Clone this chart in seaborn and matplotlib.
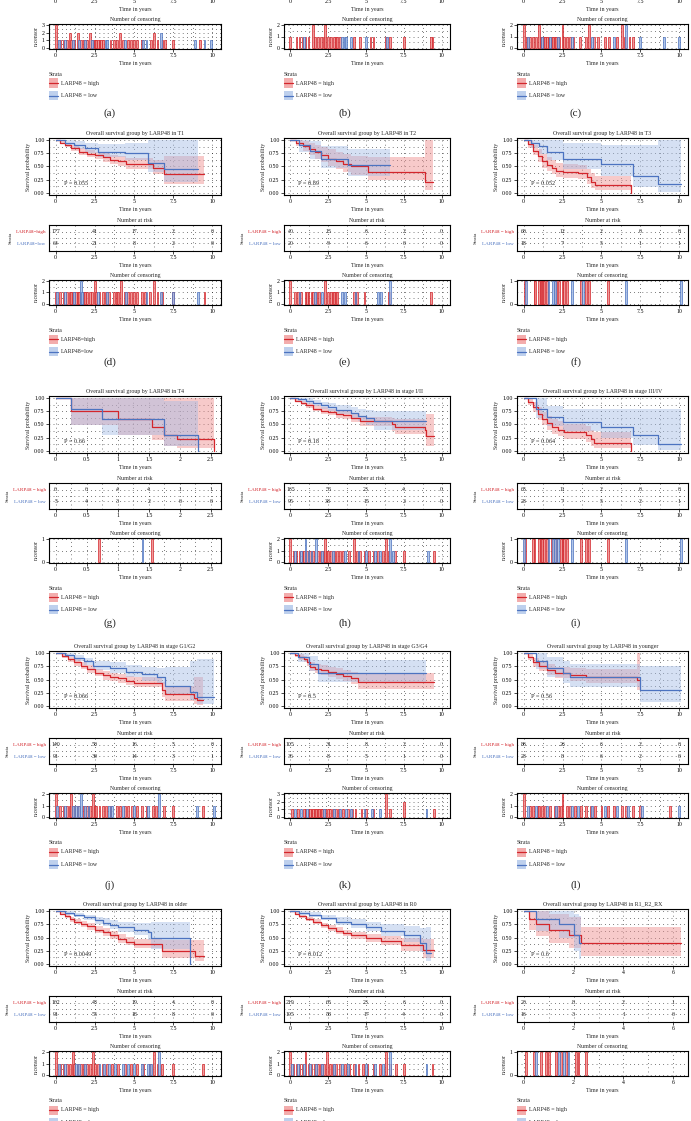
import numpy as np
import seaborn as sns
import matplotlib.pyplot as plt
from matplotlib.patches import Rectangle
from matplotlib.lines import Line2D

# ----------------------------- DATA ------------------------------------------
ticks_10 = [0, 2.5, 5, 7.5, 10]
ticks_t4 = [0, 0.5, 1, 1.5, 2, 2.5]
ticks_r1 = [0, 2, 4, 6]

# (d) T1
d_high_t = [0, 0.3, 0.6, 1.0, 1.5, 2.0, 2.5, 3.0, 3.5, 4.0, 4.5, 6.2, 6.9, 9.5]
d_high_s = [1.0, 0.95, 0.9, 0.84, 0.78, 0.74, 0.71, 0.67, 0.63, 0.6, 0.55, 0.48, 0.35, 0.35]
d_high_lo = [1.0, 0.92, 0.86, 0.79, 0.72, 0.67, 0.64, 0.59, 0.55, 0.51, 0.45, 0.36, 0.17, 0.17]
d_high_hi = [1.0, 0.98, 0.95, 0.9, 0.85, 0.81, 0.78, 0.75, 0.72, 0.7, 0.66, 0.63, 0.7, 0.7]
d_low_t = [0, 0.6, 1.2, 1.9, 2.7, 4.4, 5.9, 6.9, 9.1]
d_low_s = [1.0, 0.95, 0.9, 0.85, 0.78, 0.75, 0.57, 0.45, 0.45]
d_low_lo = [1.0, 0.9, 0.83, 0.76, 0.68, 0.62, 0.4, 0.2, 0.2]
d_low_hi = [1.0, 1.0, 0.98, 0.95, 0.92, 0.95, 1.0, 1.0, 1.0]

# (e) T2
e_high_t = [0, 0.4, 0.8, 1.2, 1.6, 2.0, 2.5, 3.0, 3.5, 4.0, 5.1, 8.9, 9.4]
e_high_s = [1.0, 0.95, 0.88, 0.82, 0.77, 0.72, 0.65, 0.6, 0.55, 0.5, 0.4, 0.2, 0.2]
e_high_lo = [1.0, 0.88, 0.79, 0.71, 0.65, 0.59, 0.51, 0.45, 0.4, 0.34, 0.25, 0.05, 0.05]
e_high_hi = [1.0, 1.0, 0.97, 0.94, 0.9, 0.87, 0.82, 0.78, 0.74, 0.7, 0.68, 1.0, 1.0]
e_low_t = [0, 0.6, 1.3, 2.0, 3.8, 6.6]
e_low_s = [1.0, 0.9, 0.8, 0.65, 0.53, 0.53]
e_low_lo = [1.0, 0.78, 0.64, 0.47, 0.33, 0.33]
e_low_hi = [1.0, 1.0, 0.98, 0.88, 0.82, 0.82]

# (f) T3
f_high_t = [0, 0.3, 0.6, 0.9, 1.2, 1.5, 1.8, 2.1, 2.5, 3.5, 4.1, 4.3, 4.6, 6.9]
f_high_s = [1.0, 0.92, 0.8, 0.7, 0.6, 0.53, 0.47, 0.42, 0.4, 0.38, 0.3, 0.2, 0.15, 0.0]
f_high_lo = [1.0, 0.85, 0.71, 0.59, 0.48, 0.41, 0.35, 0.3, 0.28, 0.26, 0.18, 0.1, 0.06, 0.0]
f_high_hi = [1.0, 0.99, 0.9, 0.82, 0.73, 0.67, 0.62, 0.57, 0.55, 0.53, 0.46, 0.38, 0.33, 0.0]
f_low_t = [0, 0.5, 1.0, 1.5, 2.5, 5.0, 7.0, 8.6, 10.1]
f_low_s = [1.0, 0.94, 0.88, 0.78, 0.65, 0.55, 0.33, 0.17, 0.17]
f_low_lo = [1.0, 0.84, 0.74, 0.62, 0.45, 0.33, 0.12, 0.03, 0.03]
f_low_hi = [1.0, 1.0, 1.0, 1.0, 0.95, 0.9, 0.9, 1.0, 1.0]

# (g) T4
g_high_t = [0, 0.25, 1.0, 1.55, 1.75, 1.95, 2.55]
g_high_s = [1.0, 0.75, 0.6, 0.45, 0.3, 0.22, 0.0]
g_high_lo = [1.0, 0.5, 0.3, 0.2, 0.1, 0.05, 0.0]
g_high_hi = [1.0, 1.0, 1.0, 1.0, 1.0, 1.0, 0.0]
g_low_t = [0, 0.25, 0.75, 1.75, 2.3]
g_low_s = [1.0, 0.8, 0.6, 0.3, 0.0]
g_low_lo = [1.0, 0.5, 0.3, 0.1, 0.0]
g_low_hi = [1.0, 1.0, 1.0, 0.95, 0.0]

# (h) stage I/II
h_high_t = [0, 0.3, 0.7, 1.0, 1.5, 2.0, 2.5, 3.0, 3.5, 4.0, 4.6, 6.7, 6.9, 8.9, 9.0, 9.5]
h_high_s = [1.0, 0.95, 0.9, 0.86, 0.8, 0.76, 0.73, 0.7, 0.67, 0.63, 0.56, 0.5, 0.45, 0.4, 0.28, 0.28]
h_high_lo = [1.0, 0.92, 0.86, 0.81, 0.75, 0.7, 0.67, 0.63, 0.6, 0.55, 0.47, 0.38, 0.33, 0.26, 0.1, 0.1]
h_high_hi = [1.0, 0.98, 0.94, 0.9, 0.86, 0.82, 0.8, 0.77, 0.75, 0.71, 0.65, 0.62, 0.6, 0.58, 0.7, 0.7]
h_low_t = [0, 0.5, 1.0, 1.5, 2.0, 2.5, 3.0, 4.0, 4.5, 5.0, 5.5, 9.0]
h_low_s = [1.0, 0.97, 0.94, 0.9, 0.86, 0.82, 0.78, 0.72, 0.66, 0.62, 0.57, 0.57]
h_low_lo = [1.0, 0.93, 0.89, 0.84, 0.79, 0.75, 0.7, 0.63, 0.56, 0.5, 0.4, 0.4]
h_low_hi = [1.0, 1.0, 0.99, 0.96, 0.93, 0.9, 0.87, 0.83, 0.8, 0.78, 0.76, 0.76]

# (i) stage III/IV
i_high_t = [0, 0.3, 0.6, 0.9, 1.2, 1.5, 1.8, 2.2, 2.6, 4.0, 4.3, 4.5, 6.9]
i_high_s = [1.0, 0.93, 0.82, 0.7, 0.6, 0.52, 0.45, 0.4, 0.35, 0.3, 0.22, 0.15, 0.0]
i_high_lo = [1.0, 0.87, 0.73, 0.59, 0.49, 0.4, 0.33, 0.28, 0.23, 0.18, 0.1, 0.05, 0.0]
i_high_hi = [1.0, 1.0, 0.93, 0.82, 0.73, 0.66, 0.6, 0.56, 0.51, 0.47, 0.4, 0.35, 0.0]
i_low_t = [0, 0.8, 1.5, 2.5, 5.0, 7.0, 8.6, 10.1]
i_low_s = [1.0, 0.8, 0.65, 0.55, 0.45, 0.3, 0.13, 0.13]
i_low_lo = [1.0, 0.62, 0.47, 0.37, 0.25, 0.11, 0.02, 0.02]
i_low_hi = [1.0, 1.0, 0.85, 0.8, 0.8, 0.8, 0.8, 0.8]

# (j) stage G1/G2
j_high_t = [0, 0.4, 0.8, 1.2, 1.6, 2.0, 2.5, 3.0, 3.5, 4.0, 4.5, 5.0, 6.8, 7.0, 8.8, 9.0, 9.4]
j_high_s = [1.0, 0.94, 0.88, 0.82, 0.76, 0.7, 0.63, 0.58, 0.55, 0.52, 0.48, 0.44, 0.3, 0.22, 0.15, 0.12, 0.12]
j_high_lo = [1.0, 0.9, 0.83, 0.76, 0.7, 0.63, 0.56, 0.5, 0.47, 0.44, 0.39, 0.35, 0.18, 0.1, 0.04, 0.02, 0.02]
j_high_hi = [1.0, 0.98, 0.93, 0.88, 0.83, 0.77, 0.7, 0.66, 0.63, 0.61, 0.57, 0.55, 0.45, 0.38, 0.55, 0.55, 0.55]
j_low_t = [0, 0.6, 1.2, 1.8, 2.4, 3.5, 4.5, 5.5, 6.5, 7.0, 8.6, 9.0, 10.1]
j_low_s = [1.0, 0.96, 0.9, 0.84, 0.76, 0.72, 0.65, 0.6, 0.55, 0.38, 0.27, 0.18, 0.18]
j_low_lo = [1.0, 0.92, 0.85, 0.78, 0.68, 0.63, 0.55, 0.48, 0.42, 0.22, 0.12, 0.04, 0.04]
j_low_hi = [1.0, 1.0, 0.96, 0.91, 0.85, 0.82, 0.77, 0.74, 0.72, 0.74, 0.85, 0.88, 0.88]

# (k) stage G3/G4
k_high_t = [0, 0.3, 0.6, 0.9, 1.1, 1.3, 1.6, 2.0, 2.5, 3.0, 3.5, 4.0, 4.5, 9.5]
k_high_s = [1.0, 0.96, 0.92, 0.88, 0.82, 0.74, 0.7, 0.67, 0.64, 0.61, 0.57, 0.52, 0.45, 0.45]
k_high_lo = [1.0, 0.92, 0.87, 0.82, 0.75, 0.66, 0.62, 0.58, 0.55, 0.51, 0.47, 0.41, 0.33, 0.33]
k_high_hi = [1.0, 1.0, 0.97, 0.94, 0.9, 0.83, 0.8, 0.77, 0.74, 0.72, 0.68, 0.64, 0.62, 0.62]
k_low_t = [0, 0.5, 1.2, 1.8, 9.0]
k_low_s = [1.0, 0.92, 0.8, 0.63, 0.63]
k_low_lo = [1.0, 0.82, 0.66, 0.46, 0.46]
k_low_hi = [1.0, 1.0, 0.95, 0.87, 0.87]

# (l) younger
l_high_t = [0, 0.3, 0.6, 1.0, 1.5, 2.0, 3.0, 4.0, 7.3, 7.5]
l_high_s = [1.0, 0.92, 0.82, 0.75, 0.68, 0.62, 0.58, 0.55, 0.5, 0.5]
l_high_lo = [1.0, 0.86, 0.74, 0.66, 0.58, 0.52, 0.47, 0.43, 0.3, 0.3]
l_high_hi = [1.0, 0.98, 0.9, 0.85, 0.79, 0.74, 0.71, 0.7, 1.0, 1.0]
l_low_t = [0, 0.8, 1.5, 2.5, 3.0, 7.5, 10.1]
l_low_s = [1.0, 0.85, 0.72, 0.62, 0.55, 0.3, 0.3]
l_low_lo = [1.0, 0.7, 0.55, 0.44, 0.36, 0.08, 0.08]
l_low_hi = [1.0, 1.0, 0.92, 0.85, 0.8, 0.75, 0.75]

# (m) older
m_high_t = [0, 0.3, 0.6, 0.9, 1.2, 1.6, 2.0, 2.5, 3.0, 3.5, 4.0, 4.5, 5.0, 6.8, 8.9, 9.5]
m_high_s = [1.0, 0.95, 0.9, 0.85, 0.8, 0.76, 0.71, 0.65, 0.6, 0.55, 0.47, 0.42, 0.38, 0.25, 0.15, 0.15]
m_high_lo = [1.0, 0.92, 0.86, 0.8, 0.75, 0.7, 0.65, 0.58, 0.53, 0.48, 0.4, 0.35, 0.3, 0.12, 0.05, 0.05]
m_high_hi = [1.0, 0.98, 0.94, 0.89, 0.85, 0.81, 0.77, 0.71, 0.67, 0.62, 0.56, 0.51, 0.48, 0.45, 0.45, 0.45]
m_low_t = [0, 0.6, 1.2, 1.8, 2.5, 3.0, 3.5, 4.0, 5.0, 5.9, 6.1, 8.6]
m_low_s = [1.0, 0.96, 0.92, 0.88, 0.82, 0.78, 0.74, 0.7, 0.65, 0.6, 0.5, 0.0]
m_low_lo = [1.0, 0.93, 0.88, 0.83, 0.76, 0.71, 0.66, 0.61, 0.55, 0.45, 0.28, 0.0]
m_low_hi = [1.0, 1.0, 0.96, 0.93, 0.89, 0.86, 0.83, 0.8, 0.78, 0.78, 0.8, 0.0]

# (n) R0
n_high_t = [0, 0.3, 0.6, 1.0, 1.5, 2.0, 2.5, 3.0, 3.5, 4.0, 5.0, 6.0, 7.3, 8.8, 9.5]
n_high_s = [1.0, 0.95, 0.9, 0.85, 0.79, 0.73, 0.68, 0.63, 0.58, 0.54, 0.49, 0.43, 0.36, 0.26, 0.26]
n_high_lo = [1.0, 0.93, 0.87, 0.81, 0.75, 0.68, 0.63, 0.57, 0.52, 0.47, 0.42, 0.35, 0.25, 0.12, 0.12]
n_high_hi = [1.0, 0.98, 0.93, 0.89, 0.84, 0.78, 0.74, 0.69, 0.65, 0.61, 0.57, 0.52, 0.5, 0.48, 0.48]
n_low_t = [0, 0.6, 1.2, 2.0, 3.0, 4.0, 5.0, 6.0, 7.5, 8.6, 9.0, 9.3]
n_low_s = [1.0, 0.96, 0.92, 0.87, 0.8, 0.75, 0.7, 0.62, 0.55, 0.4, 0.2, 0.2]
n_low_lo = [1.0, 0.93, 0.88, 0.82, 0.74, 0.68, 0.62, 0.52, 0.42, 0.22, 0.05, 0.05]
n_low_hi = [1.0, 1.0, 0.97, 0.93, 0.88, 0.84, 0.8, 0.76, 0.72, 0.68, 0.7, 0.7]

# (o) R1_R2_RX
o_high_t = [0, 0.2, 0.5, 1.0, 1.8, 2.3, 6.3]
o_high_s = [1.0, 0.85, 0.75, 0.65, 0.55, 0.4, 0.4]
o_high_lo = [1.0, 0.65, 0.52, 0.4, 0.3, 0.15, 0.15]
o_high_hi = [1.0, 1.0, 1.0, 0.95, 0.88, 0.7, 0.7]
o_low_t = [0, 0.5, 1.4, 2.0, 2.2, 2.3]
o_low_s = [1.0, 0.85, 0.75, 0.55, 0.4, 0.4]
o_low_lo = [1.0, 0.62, 0.5, 0.25, 0.1, 0.1]
o_low_hi = [1.0, 1.0, 1.0, 0.95, 0.9, 0.9]

# number at risk (high / low) at each tick
d_risk = [[177, 41, 17, 2, 0], [64, 21, 8, 2, 0]]
e_risk = [[40, 13, 6, 2, 0], [20, 9, 6, 0, 0]]
f_risk = [[60, 12, 2, 0, 0], [18, 7, 5, 1, 1]]
g_risk = [[6, 6, 4, 4, 1, 1], [5, 4, 3, 2, 0, 0]]
h_risk = [[165, 53, 23, 4, 0], [95, 38, 15, 2, 0]]
i_risk = [[65, 11, 2, 0, 0], [28, 7, 5, 2, 1]]
j_risk = [[140, 50, 16, 5, 0], [91, 39, 14, 3, 1]]
k_risk = [[105, 31, 8, 2, 0], [36, 8, 5, 1, 0]]
l_risk = [[86, 26, 6, 2, 0], [28, 8, 6, 2, 0]]
m_risk = [[162, 48, 19, 4, 0], [91, 55, 18, 8, 0]]
n_risk = [[219, 63, 23, 6, 0], [105, 58, 17, 4, 0]]
o_risk = [[20, 8, 2, 1], [16, 3, 1, 0]]

# censoring times (a repeated time = more than one censored subject)
a_cens_high = [0, 0, 0, 0.3, 0.5, 0.7, 0.9, 0.9, 1.0, 1.2, 1.4, 1.4, 1.6, 1.8, 2.0, 2.2, 2.2, 2.4, 2.5, 2.6,
               2.7, 2.8, 2.9, 3.0, 3.5, 3.7, 3.9, 4.1, 4.1, 4.3, 4.6, 4.8, 5.0, 5.2, 5.5, 6.1, 6.3, 6.3,
               6.5, 6.8, 7.0, 7.5, 9.2]
a_cens_low = [0.2, 0.6, 1.1, 1.5, 1.9, 2.3, 3.2, 3.3, 4.4, 5.6, 5.8, 6.7, 6.7, 8.9, 9.5, 9.9]
b_cens_high = [0, 0.4, 0.6, 0.8, 1.0, 1.2, 1.5, 1.5, 1.6, 1.8, 2.0, 2.2, 2.3, 2.3, 2.5, 2.7, 2.9, 3.0, 3.1,
               3.3, 4.2, 4.6, 5.3, 5.5, 6.3, 6.6, 7.5, 9.3, 9.4]
b_cens_low = [0.9, 3.4, 3.6, 3.7, 4.0, 5.0, 6.4]
c_cens_high = [0, 0, 0.2, 0.4, 0.6, 0.8, 1.0, 1.0, 1.1, 1.2, 1.3, 1.4, 1.5, 1.6, 1.7, 1.8, 1.9, 2.0, 2.1,
               2.2, 2.3, 2.5, 2.5, 2.6, 2.8, 3.0, 3.2, 3.6, 4.0, 4.2, 4.2, 4.5, 4.8, 5.2, 5.5, 6.0, 6.3,
               6.3, 6.5, 6.8, 7.0]
c_cens_low = [0.3, 1.2, 1.7, 2.2, 3.1, 4.4, 5.8, 6.6, 6.6, 7.5, 9.0, 10.0]
d_cens_high = [0, 0.3, 0.5, 0.7, 0.9, 1.0, 1.1, 1.3, 1.4, 1.5, 1.8, 1.9, 2.0, 2.2, 2.3, 2.5, 2.5, 2.6, 2.8,
               3.0, 3.2, 3.4, 3.7, 3.9, 4.0, 4.2, 4.2, 4.4, 4.6, 4.8, 5.0, 5.2, 5.5, 5.7, 6.0, 6.3, 6.3,
               6.5, 6.8, 7.5, 9.5]
d_cens_low = [0.1, 0.6, 1.2, 1.6, 1.6, 1.7, 2.7, 3.3, 4.5, 5.8, 6.7, 7.5, 9.1]
e_cens_high = [0, 0, 0.3, 0.5, 0.7, 1.0, 1.1, 1.2, 1.4, 1.5, 1.7, 1.9, 2.3, 2.3, 2.5, 2.7, 2.8, 2.9, 3.0,
               3.1, 4.2, 4.4, 4.9, 6.5, 9.3]
e_cens_low = [0.6, 1.6, 2.1, 3.4, 3.6, 4.3, 5.8, 6.0, 6.6, 6.6]
f_cens_high = [0.1, 0.7, 0.75, 1.0, 1.1, 1.2, 1.25, 1.3, 1.5, 2.1, 2.3, 2.5, 2.6, 2.8, 3.7, 4.0, 4.2, 5.4]
f_cens_low = [0.15, 1.6, 1.9, 2.0, 3.1, 3.8, 6.6, 10.1]
g_cens_high = [0.7, 1.55]
g_cens_low = [1.4]
h_cens_high = [0, 0, 0.2, 0.4, 0.6, 0.8, 0.9, 1.1, 1.3, 1.5, 1.8, 2.0, 2.2, 2.3, 2.3, 2.4, 2.5, 2.7, 2.9,
               3.1, 3.3, 3.5, 3.9, 4.2, 4.2, 4.4, 4.6, 4.9, 5.2, 5.5, 5.8, 6.1, 6.3, 6.3, 6.5, 6.9, 7.5, 9.5]
h_cens_low = [0.3, 0.7, 1.0, 1.0, 1.2, 1.4, 1.7, 1.7, 2.1, 2.8, 3.6, 4.5, 5.0, 5.6, 5.9, 6.6, 6.6, 6.8, 9.1]
i_cens_high = [0.1, 0.6, 0.7, 1.0, 1.1, 1.2, 1.3, 1.5, 1.8, 2.1, 2.4, 2.5, 2.6, 2.8, 3.7, 4.0, 4.2, 5.4]
i_cens_low = [0.05, 1.6, 1.9, 2.0, 2.2, 3.1, 6.6, 10.1]
j_cens_high = [0, 0, 0.3, 0.5, 0.7, 0.9, 1.0, 1.0, 1.2, 1.4, 1.8, 2.0, 2.2, 2.4, 2.4, 2.5, 2.6, 2.8, 3.0,
               3.2, 3.5, 3.9, 4.1, 4.4, 4.6, 4.9, 5.2, 5.5, 5.8, 6.2, 6.4, 6.9, 7.5, 9.4]
j_cens_low = [0.1, 0.6, 1.1, 1.3, 1.5, 1.6, 1.6, 1.9, 2.1, 3.4, 3.6, 4.3, 5.0, 5.9, 6.6, 6.6, 9.0, 10.1]
k_cens_high = [0.1, 0.5, 0.9, 1.0, 1.2, 1.3, 1.4, 1.5, 1.6, 1.7, 1.8, 1.9, 2.0, 2.1, 2.3, 2.5, 2.6, 2.8,
               3.0, 3.2, 3.5, 3.8, 4.1, 4.3, 4.7, 5.0, 5.5, 6.3, 6.3, 6.3, 6.6, 7.5, 7.5, 9.5]
k_cens_low = [0.3, 0.7, 1.1, 2.2, 2.9, 3.3, 3.7, 4.0, 4.9, 5.4, 5.9, 9.0]
l_cens_high = [0, 0, 0.4, 0.6, 0.9, 1.0, 1.2, 1.4, 1.7, 2.0, 2.2, 2.4, 2.5, 2.5, 2.8, 3.0, 3.3, 3.7, 4.0,
               4.3, 4.6, 5.0, 5.4, 5.8, 6.3, 6.6, 7.0, 7.5, 9.4]
l_cens_low = [0.3, 0.8, 1.5, 2.1, 3.1, 3.5, 4.4, 5.2, 6.0, 6.7, 7.6, 10.0]
m_cens_high = [0, 0, 0.3, 0.5, 0.7, 0.9, 1.1, 1.1, 1.2, 1.4, 1.6, 1.8, 2.0, 2.2, 2.4, 2.4, 2.5, 2.7, 3.0,
               3.3, 3.6, 4.0, 4.4, 4.8, 5.2, 5.6, 6.0, 6.3, 6.3, 6.5, 6.8, 7.5, 9.4]
m_cens_low = [0.2, 0.6, 1.3, 1.5, 1.9, 2.8, 3.1, 3.4, 3.8, 4.3, 4.6, 5.0, 5.5, 5.9, 6.1, 6.6, 6.6]
n_cens_high = [0, 0, 0.2, 0.4, 0.6, 0.8, 1.0, 1.0, 1.2, 1.4, 1.6, 1.8, 2.0, 2.2, 2.4, 2.4, 2.6, 2.8, 3.0,
               3.3, 3.6, 3.9, 4.2, 4.5, 4.8, 5.1, 5.5, 5.9, 6.3, 6.3, 6.6, 7.0, 7.5, 9.4]
n_cens_low = [0.1, 0.5, 0.9, 1.3, 1.7, 2.1, 2.9, 3.4, 3.8, 4.3, 5.0, 5.6, 6.1, 6.6, 6.6, 9.0]
o_cens_high = [0.1, 0.4, 0.7, 0.9, 1.0, 1.3, 1.5, 1.7, 2.1, 2.2, 2.5]
o_cens_low = [0.5, 1.4, 1.6, 1.8]

titles = ["", "", "",
          "T1", "T2", "T3", "T4", "stage I/II", "stage III/IV",
          "stage G1/G2", "stage G3/G4", "younger", "older", "R0", "R1_R2_RX"]
p_values = ["", "", "", "0.055", "0.89", "0.052", "0.66", "0.18", "0.064",
            "0.066", "0.5", "0.56", "0.0049", "0.012", "0.6"]
panel_labels = ["(a)", "(b)", "(c)", "(d)", "(e)", "(f)", "(g)", "(h)", "(i)",
                "(j)", "(k)", "(l)", "", "", ""]
strata_names = ["LARP48 = high", "LARP48 = low"]
strata_names_d = ["LARP48=high", "LARP48=low"]

# ----------------------------- STYLE -----------------------------------------
sns.set_theme(style="white")
plt.rcParams['font.family'] = ['Liberation Serif', 'DejaVu Serif']

RED, BLUE = '#d3262c', '#4c73c0'
RED_FILL, BLUE_FILL = '#ee8a8a', '#a3bce6'
FS = 4.2

W, H = 691, 1121
fig = plt.figure(figsize=(W / 100, H / 100), dpi=100)
fig.patch.set_facecolor('white')

col_x = [(49, 221), (284, 450), (517, 688)]
col_mid = [110, 345, 576]
row_top = [-124, 132, 390, 645, 903]
label_y = [113, 362, 623, 885, None]

g = globals()
panels = []
for n, key in enumerate("abcdefghijklmno"):
    p = dict(title=titles[n], pval=p_values[n], label=panel_labels[n],
             cens_high=g[key + '_cens_high'], cens_low=g[key + '_cens_low'])
    p['ticks'], p['xr'] = ticks_10, 10.1
    if key == 'g':
        p['ticks'], p['xr'] = ticks_t4, 2.55
    if key == 'o':
        p['ticks'], p['xr'] = ticks_r1, 6.3
    if n >= 3:
        p['high'] = [g[key + '_high_' + s] for s in ('t', 's', 'lo', 'hi')]
        p['low'] = [g[key + '_low_' + s] for s in ('t', 's', 'lo', 'hi')]
        p['risk'] = g[key + '_risk']
    panels.append(p)


def px_axes(x0, y0, x1, y1):
    return fig.add_axes([x0 / W, 1 - y1 / H, (x1 - x0) / W, (y1 - y0) / H])


def base_style(ax, p):
    xr, ticks = p['xr'], p['ticks']
    ax.set_xlim(-0.042 * xr, 1.045 * xr)
    ax.set_xticks(ticks)
    ax.set_xticklabels([f'{t:g}' for t in ticks])
    step = ticks[1] - ticks[0]
    ax.set_xticks([t + step / 2 for t in ticks[:-1]], minor=True)
    ax.grid(True, which='both', color='black', linestyle=(0, (1, 5)), linewidth=0.5)
    for sp in ax.spines.values():
        sp.set_color('black')
        sp.set_linewidth(0.8)
    ax.tick_params(which='major', labelsize=FS, length=2, width=0.5, pad=1.2,
                   bottom=True, left=True, colors='black')
    ax.tick_params(which='minor', length=0)
    ax.set_xlabel('Time in years', fontsize=FS, labelpad=1.5)


def draw_surv(ax, p):
    for key, col, fill in (('high', RED, RED_FILL), ('low', BLUE, BLUE_FILL)):
        t, s, lo, hi = p[key]
        ax.fill_between(t, lo, hi, step='post', color=fill, alpha=0.45, linewidth=0)
        sns.lineplot(x=t, y=s, ax=ax, color=col, linewidth=0.9, drawstyle='steps-post')
    base_style(ax, p)
    ax.set_ylim(-0.035, 1.035)
    ax.set_yticks([0, 0.25, 0.5, 0.75, 1.0])
    ax.set_yticklabels(['0.00', '0.25', '0.50', '0.75', '1.00'])
    ax.set_yticks([0.125, 0.375, 0.625, 0.875], minor=True)
    ax.set_ylabel('Survival probability', fontsize=FS, labelpad=2)
    ax.set_title('Overall survival group by LARP48 in ' + p['title'], fontsize=FS, pad=2.5)
    ax.text(p['xr'] * 0.05, 0.19, 'P = ' + p['pval'], fontsize=FS + 0.3, va='center')


def draw_risk(ax, p, names):
    base_style(ax, p)
    ax.set_ylim(-0.65, 1.6)
    ax.set_yticks([0, 1])
    ax.set_yticks([0.5], minor=True)
    if 'risk' in p:
        for row, vals in zip((1, 0), p['risk']):
            for t, v in zip(p['ticks'], vals):
                ax.text(t, row, str(v), ha='center', va='center', fontsize=FS)
        ax.set_yticklabels([names[1], names[0]])
        for lab, col in zip(ax.get_yticklabels(), (BLUE, RED)):
            lab.set_color(col)
            lab.set_fontsize(3.7)
    else:
        ax.set_yticklabels([])
    ax.tick_params(axis='y', length=0, pad=2)
    ax.set_ylabel('Strata', fontsize=3.8, labelpad=2.5)
    ax.set_title('Number at risk', fontsize=FS, pad=2.5)


def draw_cens(ax, p):
    width = 0.012 * p['xr']
    top = 1
    for times, col, fill in ((p['cens_high'], RED, RED_FILL), (p['cens_low'], BLUE, BLUE_FILL)):
        t, cnt = np.unique(times, return_counts=True)
        top = max(top, cnt.max())
        ax.bar(t, cnt, width=width, color=fill, edgecolor=col, linewidth=0.6, alpha=0.85)
    base_style(ax, p)
    ax.set_ylim(-0.04 * top, top * 1.04)
    ax.set_yticks(range(top + 1))
    ax.set_yticks([v + 0.5 for v in range(top)], minor=True)
    ax.set_ylabel('n.censor', fontsize=FS, labelpad=2)
    ax.set_title('Number of censoring', fontsize=FS, pad=2.5)


def draw_legend(x0, y0, names):
    fig.text(x0 / W, 1 - y0 / H, 'Strata', fontsize=FS, va='center')
    for k, (name, col, fill) in enumerate(zip(names, (RED, BLUE), (RED_FILL, BLUE_FILL))):
        yc = y0 + 9 + 12.5 * k
        fig.add_artist(Rectangle((x0 / W, 1 - (yc + 4.5) / H), 9 / W, 9 / H,
                                 transform=fig.transFigure, facecolor=fill, alpha=0.7, linewidth=0))
        fig.add_artist(Line2D([x0 / W, (x0 + 9) / W], [1 - yc / H, 1 - yc / H],
                              transform=fig.transFigure, color=col, linewidth=0.9))
        fig.text((x0 + 12) / W, 1 - yc / H, name, fontsize=FS, va='center')


for n, p in enumerate(panels):
    r, c = divmod(n, 3)
    T = row_top[r]
    x0, x1 = col_x[c]
    names = strata_names_d if n == 3 else strata_names
    if n >= 3:
        draw_surv(px_axes(x0, T + 6, x1, T + 63), p)
    draw_risk(px_axes(x0, T + 93, x1, T + 119), p, names)
    draw_cens(px_axes(x0, T + 148, x1, T + 173), p)
    draw_legend(x0, T + 198, names)
    if label_y[r] is not None and p['label']:
        fig.text(col_mid[c] / W, 1 - label_y[r] / H, p['label'], fontsize=8,
                 ha='center', va='center')

fig.savefig('out.png', dpi=100, facecolor='white')
